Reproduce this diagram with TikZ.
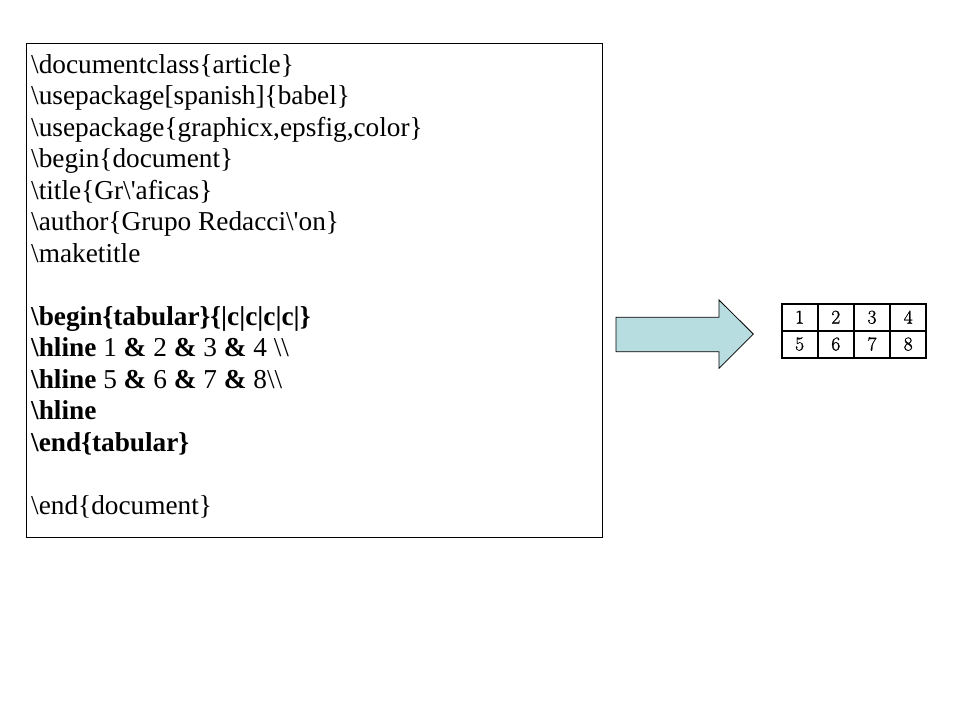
\documentclass[tikz,border=0pt]{standalone}
\usepackage{fontspec}
\setmainfont{Liberation Serif}
\newfontfamily\cmdigits[FakeBold=1.2]{Latin Modern Roman}
\newcommand{\BS}{\textbackslash}
\newcommand{\QS}{\textquotesingle}
\definecolor{arrowfill}{HTML}{B8DDE1}
\tikzset{
  codeline/.style={anchor=base west, inner sep=0pt, font=\fontsize{27.3}{32}\selectfont},
  cell/.style={draw, line width=2pt, minimum width=36.2pt, minimum height=26.8pt, inner sep=0pt,
    text height=12.4pt, text depth=0pt, font=\cmdigits\fontsize{19.5}{22}\selectfont},
}
\begin{document}
\begin{tikzpicture}[x=1pt,y=-1pt]
\useasboundingbox[fill=white] (0,0) rectangle (960,720);
% code box
\node[draw, line width=1pt, minimum width=575.5pt, minimum height=494pt, anchor=north west, inner sep=0pt] (box) at (26,43) {};
\node[codeline] (l1) at (31,73) {\BS documentclass\{article\}};
\node[codeline] (l2) at (31,104.5) {\BS usepackage[spanish]\{babel\}};
\node[codeline] (l3) at (31,136) {\BS usepackage\{graphicx,epsfig,color\}};
\node[codeline] (l4) at (31,167.5) {\BS begin\{document\}};
\node[codeline] (l5) at (31,199) {\BS title\{Gr\BS\QS aficas\}};
\node[codeline] (l6) at (31,230.5) {\BS author\{Grupo Redacci\BS\QS on\}};
\node[codeline] (l7) at (31,262) {\BS maketitle};
\node[codeline] (l9) at (31,325) {\bfseries\BS begin\{tabular\}\{|c|c|c|c|\}};
\node[codeline] (l10) at (31,356.5) {{\bfseries\BS hline} 1 {\bfseries\&} 2 {\bfseries\&} 3 {\bfseries\&} 4 \BS\BS};
\node[codeline] (l11) at (31,388) {{\bfseries\BS hline} 5 {\bfseries\&} 6 {\bfseries\&} 7 {\bfseries\&} 8\BS\BS};
\node[codeline] (l12) at (31,419.5) {\bfseries\BS hline};
\node[codeline] (l13) at (31,451) {\bfseries\BS end\{tabular\}};
\node[codeline] (l15) at (31,514) {\BS end\{document\}};
% arrow
\draw[fill=arrowfill, line width=0.8pt, line join=miter]
  (616,317.3) -- (719,317.3) -- (719,300) -- (753.3,334) -- (719,368.3) -- (719,351.7) -- (616,351.7) -- cycle;
% resulting table
\node[cell] (c1) at (799.6,317.4) {1};
\node[cell] (c2) at (835.8,317.4) {2};
\node[cell] (c3) at (872.0,317.4) {3};
\node[cell] (c4) at (908.2,317.4) {4};
\node[cell] (c5) at (799.6,344.2) {5};
\node[cell] (c6) at (835.8,344.2) {6};
\node[cell] (c7) at (872.0,344.2) {7};
\node[cell] (c8) at (908.2,344.2) {8};
\end{tikzpicture}
\end{document}
